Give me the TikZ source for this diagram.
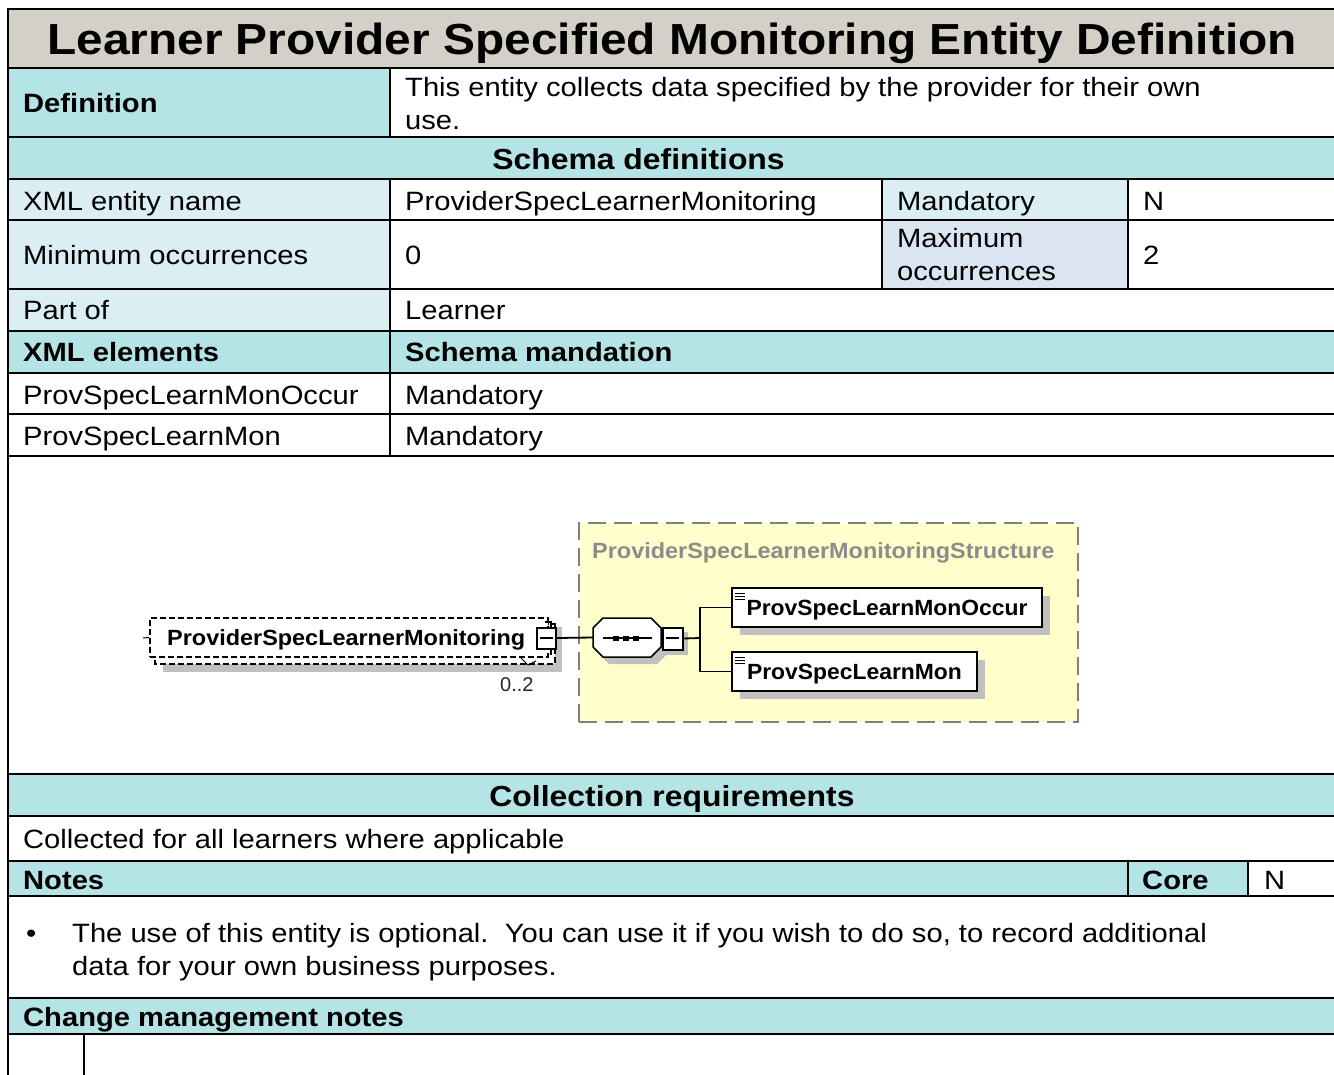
\documentclass[tikz,border=0pt]{standalone}
\usepackage{fontspec}
\setmainfont{Liberation Sans}
\usetikzlibrary{calc}
\definecolor{cyanh}{RGB}{180,228,230}
\definecolor{titlegray}{RGB}{212,208,200}
\definecolor{lblue}{RGB}{218,238,243}
\definecolor{lblue2}{RGB}{219,229,241}
\definecolor{shadowgray}{RGB}{192,192,192}
\definecolor{yel}{RGB}{255,255,204}
\definecolor{dashgray}{RGB}{128,128,128}
\definecolor{structgray}{RGB}{140,140,140}
\newcommand{\hs}[1]{\scalebox{1.1}[1]{#1}}
\newcommand{\ds}[1]{\scalebox{1.04}[1]{#1}}
\newcommand{\dsw}[1]{\scalebox{1.065}[1]{#1}}
\begin{document}
\begin{tikzpicture}[x=1pt,y=-1pt,
  body/.style={inner sep=0pt, anchor=base west, font=\fontsize{26.5}{32}\selectfont},
  bodyb/.style={body, font=\fontsize{26.5}{32}\selectfont\bfseries},
  headc/.style={inner sep=0pt, anchor=base, font=\fontsize{29}{35}\selectfont\bfseries},
  rule/.style={line width=2pt},
  dfont/.style={font=\fontsize{22}{26}\selectfont\bfseries},
  ebox/.style={draw, line width=1.5pt, fill=white, inner sep=0pt, dfont, text height=16pt, text depth=0pt},
  conn/.style={line width=1.8pt},
  edash/.style={draw, line width=1.5pt, dash pattern=on 6pt off 3pt},
  ]
\fill[white] (0,0) rectangle (1334,1075);
\useasboundingbox (0,0) rectangle (1334,1075);
% ---------- cell fills ----------
\fill[titlegray] (8,9) rectangle (1334,68);
\fill[cyanh] (8,68) rectangle (390,137);
\fill[cyanh] (8,137) rectangle (1334,179);
\fill[lblue] (8,179) rectangle (390,331);
\fill[lblue] (882,179) rectangle (1128,220);
\fill[lblue2] (882,220) rectangle (1128,289);
\fill[cyanh] (8,331) rectangle (1334,373);
\fill[cyanh] (8,774) rectangle (1334,816);
\fill[cyanh] (8,861) rectangle (1248,896);
\fill[cyanh] (8,998) rectangle (1334,1034);
% ---------- rules ----------
\foreach \yy in {9,68,137,179,220,289,331,373,414,456,774,816,861,896,998,1034}
  \draw[rule] (7,\yy) -- (1334,\yy);
\draw[rule] (8,8) -- (8,1075);
\draw[rule] (390,68) -- (390,137);
\draw[rule] (390,179) -- (390,456);
\draw[rule] (882,179) -- (882,289);
\draw[rule] (1128,179) -- (1128,289);
\draw[rule] (1128,861) -- (1128,896);
\draw[rule] (1248,861) -- (1248,896);
\draw[rule] (84,1034) -- (84,1075);
% ---------- texts ----------
\node[inner sep=0pt, anchor=base, font=\fontsize{43.5}{50}\selectfont\bfseries] (title) at (672,55) {\hs{Learner Provider Specified Monitoring Entity Definition}};
\node[bodyb] (deflbl) at (23,113) {\hs{Definition}};
\node[body] (defa) at (405,97) {\hs{This entity collects data specified by the provider for their own}};
\node[body] (defb) at (405,130) {\hs{use.}};
\node[headc] (schemadef) at (638.5,170) {\hs{Schema definitions}};
\node[body] (xmlname) at (23,211) {\hs{XML entity name}};
\node[body] (xmlnamev) at (405,211) {\hs{ProviderSpecLearnerMonitoring}};
\node[body] (mand) at (897,211) {\hs{Mandatory}};
\node[body] (mandv) at (1143,211) {\hs{N}};
\node[body] (minocc) at (23,265) {\hs{Minimum occurrences}};
\node[body] (minoccv) at (405,265) {\hs{0}};
\node[body] (maxa) at (897,248) {\hs{Maximum}};
\node[body] (maxb) at (897,281) {\hs{occurrences}};
\node[body] (maxv) at (1143,265) {\hs{2}};
\node[body] (partof) at (23,320) {\hs{Part of}};
\node[body] (partofv) at (405,320) {\hs{Learner}};
\node[bodyb] (xmlel) at (23,362) {\hs{XML elements}};
\node[bodyb] (schmand) at (405,362) {\hs{Schema mandation}};
\node[body] (ela) at (23,404) {\hs{ProvSpecLearnMonOccur}};
\node[body] (elav) at (405,404) {\hs{Mandatory}};
\node[body] (elb) at (23,445) {\hs{ProvSpecLearnMon}};
\node[body] (elbv) at (405,445) {\hs{Mandatory}};
\node[headc] (collreq) at (672,806) {\hs{Collection requirements}};
\node[body] (coll) at (23,848) {\hs{Collected for all learners where applicable}};
\node[bodyb] (notes) at (23,889) {\hs{Notes}};
\node[bodyb] (core) at (1142,889) {\hs{Core}};
\node[body] (corev) at (1264,889) {\hs{N}};
\node[body] (bullet) at (26,942) {\hs{•}};
\node[body] (notea) at (72,942) {\hs{The use of this entity is optional.\ \ You can use it if you wish to do so, to record additional}};
\node[body] (noteb) at (72,975) {\hs{data for your own business purposes.}};
\node[bodyb] (chg) at (23,1026) {\hs{Change management notes}};
% ---------- schema diagram ----------
% structure (yellow dashed box)
\node[draw=dashgray, dash pattern=on 18pt off 8pt, line width=1.5pt, fill=yel, minimum width=499pt, minimum height=199pt, inner sep=0pt] (struct) at (828.5,622.5) {};
\node[inner sep=0pt, anchor=base west, dfont, text=structgray] (structlbl) at (592,558) {\dsw{ProviderSpecLearnerMonitoringStructure}};
% element (optional, repeating)
\fill[shadowgray] (163,627) rectangle (562,672);
\draw[edash, fill=white] (155,624) rectangle (555,664);
\node[edash, fill=white, minimum width=398pt, minimum height=39pt, inner sep=0pt] (elem) at (349,637.5) {};
\node[inner sep=0pt, anchor=base west, dfont] (elemlbl) at (167,645) {\dsw{ProviderSpecLearnerMonitoring}};
\coordinate (stub) at (143,638);
\draw[line width=1pt] (stub) -- (elem.west);
\draw[line width=1pt] (520,657) -- (528,665) -- (536,661);
\node[inner sep=0pt, anchor=base west, font=\fontsize{20}{24}\selectfont, text=black!85] (occ) at (500,691) {0..2};
% collapse icon of element
\draw[line width=1.5pt] (545,622) -- (551,622) -- (551,628);
\draw[line width=1.5pt] (551,648) -- (551,655);
\node[draw, line width=2pt, fill=white, minimum width=19pt, minimum height=21pt, inner sep=0pt] (elemcol) at (546.5,638) {};
\draw[line width=1.5pt] (540,638) -- (553,638);
% sequence compositor
\fill[shadowgray] (609,625) -- (657,625) -- (667,635) -- (667,654) -- (657,664) -- (609,664) -- (599,654) -- (599,635) -- cycle;
\node[minimum width=68pt, minimum height=39pt, inner sep=0pt] (seq) at (627,637.5) {};
\draw[line width=1.5pt, fill=white] (603,618) -- (651,618) -- (661,628) -- (661,647) -- (651,657) -- (603,657) -- (593,647) -- (593,628) -- cycle;
\draw[line width=1.5pt] (603,638) -- (652,638);
\foreach \dx in {613,623,633} \fill (\dx,635.5) rectangle ++(6,5);
% collapse icon of sequence
\fill[shadowgray] (666,632) rectangle (688,655);
\node[draw, line width=2pt, fill=white, minimum width=20pt, minimum height=22pt, inner sep=0pt] (seqcol) at (672.5,638.5) {};
\draw[line width=1.5pt] (666,638) -- (679,638);
% child elements
\fill[shadowgray] (740,596) rectangle (1050,635);
\node[ebox, minimum width=310pt, minimum height=39pt] (box1) at (887,607.5) {\ds{ProvSpecLearnMonOccur}};
\fill[shadowgray] (740,660) rectangle (985,699);
\node[ebox, minimum width=245pt, minimum height=39pt] (box2) at (854.5,671.5) {\ds{ProvSpecLearnMon}};
\draw[line width=1pt] (735,593) -- (745,593) (735,596) -- (745,596) (735,599) -- (745,599);
\draw[line width=1pt] (735,657) -- (745,657) (735,660) -- (745,660) (735,663) -- (745,663);
% connectors
\draw[conn] (elemcol.east) -- (seq.west);
\coordinate (fork) at (700,638);
\draw[conn] (seqcol.east) -- (fork);
\draw[conn] (fork) |- (box1.west);
\draw[conn] (fork) |- (box2.west);
\end{tikzpicture}
\end{document}
